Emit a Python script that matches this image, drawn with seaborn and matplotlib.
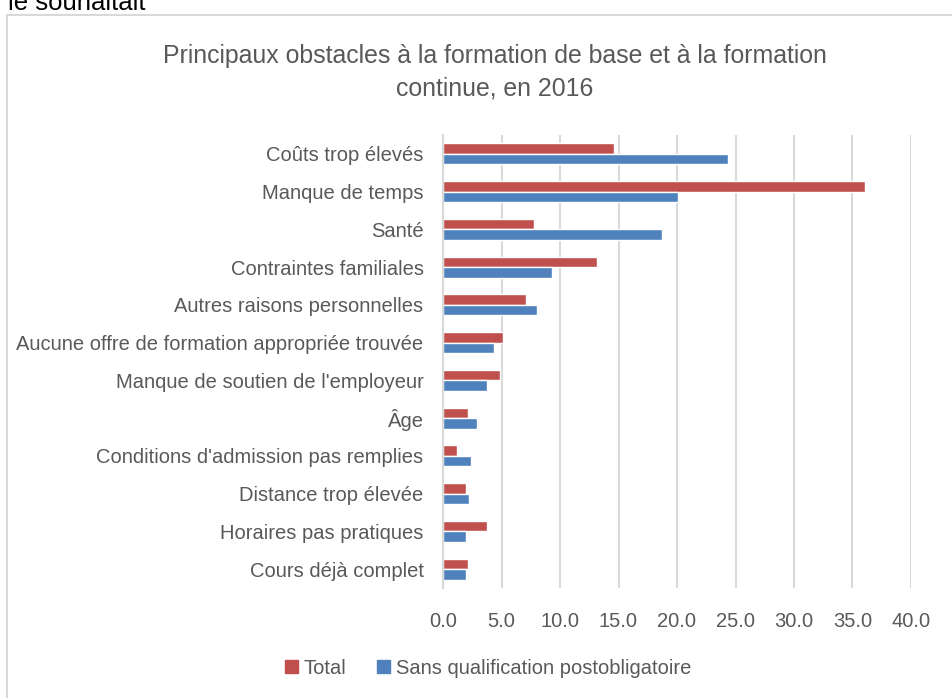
import matplotlib
matplotlib.use("Agg")
import matplotlib.pyplot as plt
import matplotlib.patches as mpatches
import pandas as pd
import seaborn as sns

categories = [
    "Coûts trop élevés",
    "Manque de temps",
    "Santé",
    "Contraintes familiales",
    "Autres raisons personnelles",
    "Aucune offre de formation appropriée trouvée",
    "Manque de soutien de l'employeur",
    "Âge",
    "Conditions d'admission pas remplies",
    "Distance trop élevée",
    "Horaires pas pratiques",
    "Cours déjà complet",
]
total = [14.6, 36.1, 7.8, 13.2, 7.1, 5.1, 4.85, 2.15, 1.2, 2.0, 3.8, 2.1]
sans_qualif = [24.4, 20.1, 18.75, 9.3, 8.0, 4.4, 3.8, 2.9, 2.4, 2.2, 1.95, 1.95]
series = ["Total", "Sans qualification postobligatoire"]
xticks = [0, 5, 10, 15, 20, 25, 30, 35, 40]

df = pd.DataFrame({
    "categorie": categories * 2,
    "valeur": total + sans_qualif,
    "serie": [series[0]] * len(categories) + [series[1]] * len(categories),
})

sns.set_style("white")
plt.rcParams['font.family'] = ['Liberation Sans', 'DejaVu Sans']

W, H = 952, 698
fig = plt.figure(figsize=(W / 100, H / 100), dpi=100)
ax = fig.add_axes([443 / W, 1 - 588 / H, (911 - 443) / W, (588 - 135) / H])

gris = "#595959"
sns.barplot(data=df, y="categorie", x="valeur", hue="serie", order=categories,
            hue_order=series, palette=["#C0504D", "#4F81BD"], width=0.56,
            orient="h", ax=ax, legend=False, saturation=1)

ax.set_xlim(0, 40)
ax.set_xticks(xticks)
ax.set_xticklabels([f"{v:.1f}" for v in xticks])
ax.set_ylim(len(categories) - 0.5, -0.5)
ax.grid(axis="x", color="#D9D9D9", lw=1.5)
ax.set_axisbelow(True)
for s in ["top", "right", "bottom"]:
    ax.spines[s].set_visible(False)
ax.spines["left"].set_color("#D9D9D9")
ax.spines["left"].set_linewidth(1.5)
ax.tick_params(axis="both", length=0, labelsize=14.5, colors=gris)
ax.tick_params(axis="x", pad=17)
ax.tick_params(axis="y", pad=14)
ax.set_xlabel("")
ax.set_ylabel("")

fig.text(495 / W, 1 - 72 / H,
         "Principaux obstacles à la formation de base et à la formation\ncontinue, en 2016",
         ha="center", va="center", fontsize=17.9, color=gris, linespacing=1.45)

fig.text(8 / W, 1 - 10 / H, "le souhaitait", ha="left", va="baseline",
         fontsize=18.5, color="black")

fig.patches.append(mpatches.Rectangle((7 / W, -0.01), 1.0, 1 - 15 / H + 0.01,
                                      transform=fig.transFigure, fill=False,
                                      edgecolor="#D9D9D9", lw=1.5))

handles = [mpatches.Patch(color="#C0504D", label=series[0]),
           mpatches.Patch(color="#4F81BD", label=series[1])]
fig.legend(handles=handles, loc="center", bbox_to_anchor=(488 / W, 1 - 668 / H),
           ncol=2, frameon=False, fontsize=14.5, labelcolor=gris,
           handlelength=0.65, handleheight=0.65, handletextpad=0.3, columnspacing=1.5)

fig.savefig("out.png", dpi=100)
